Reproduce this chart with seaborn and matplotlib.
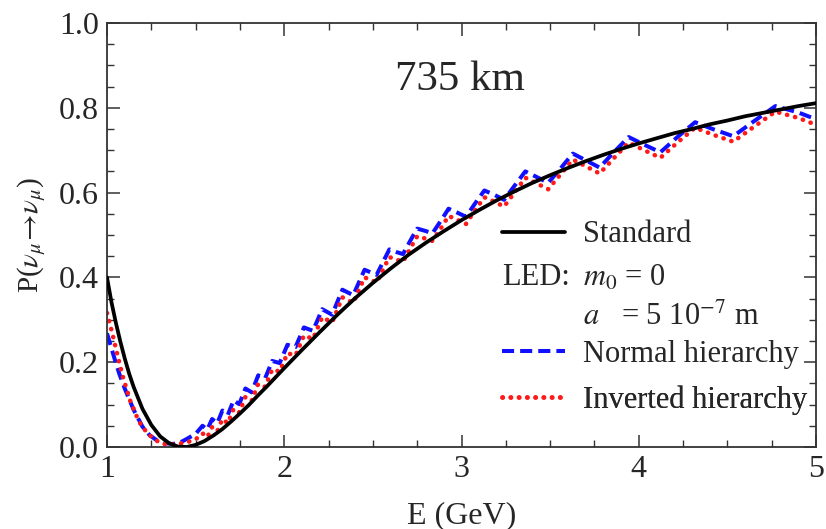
import matplotlib
matplotlib.use("Agg")
import matplotlib.pyplot as plt
import seaborn as sns
import pandas as pd
from matplotlib.lines import Line2D

# ---------------- data ----------------
E_std = [1.00, 1.025, 1.05, 1.075, 1.10, 1.125, 1.15, 1.20, 1.25, 1.30, 1.35, 1.40,
         1.45, 1.50, 1.55, 1.60, 1.65, 1.70, 1.75, 1.80, 1.85, 1.90, 1.95, 2.0, 2.1,
         2.2, 2.3, 2.4, 2.5, 2.6, 2.7, 2.8, 2.9, 3.0, 3.1, 3.2, 3.3, 3.4, 3.5, 3.6,
         3.7, 3.8, 3.9, 4.0, 4.1, 4.2, 4.3, 4.4, 4.5, 4.6, 4.7, 4.8, 4.9, 5.0]
P_std = [0.400, 0.342, 0.293, 0.249, 0.209, 0.173, 0.142, 0.090, 0.052, 0.025, 0.009,
         0.001, 0.000, 0.005, 0.014, 0.027, 0.042, 0.060, 0.079, 0.099, 0.121, 0.142,
         0.164, 0.186, 0.229, 0.271, 0.312, 0.351, 0.387, 0.421, 0.453, 0.482, 0.509,
         0.535, 0.559, 0.582, 0.603, 0.623, 0.641, 0.658, 0.674, 0.689, 0.703, 0.716,
         0.728, 0.740, 0.750, 0.761, 0.770, 0.780, 0.788, 0.796, 0.804, 0.811]

E_nh = [1.00, 1.02, 1.045, 1.07, 1.10, 1.13, 1.15, 1.18, 1.20, 1.24, 1.28, 1.33, 1.37,
        1.41, 1.45, 1.50, 1.539, 1.566, 1.593, 1.622, 1.651, 1.682, 1.714, 1.746,
        1.781, 1.816, 1.853, 1.892, 1.932, 1.974, 2.018, 2.064, 2.111, 2.162, 2.214,
        2.270, 2.328, 2.389, 2.453, 2.521, 2.593, 2.631, 2.670, 2.709, 2.750, 2.793,
        2.836, 2.881, 2.927, 2.975, 3.025, 3.076, 3.129, 3.184, 3.240, 3.299, 3.360,
        3.423, 3.489, 3.557, 3.628, 3.702, 3.779, 3.859, 3.943, 4.031, 4.122, 4.218,
        4.318, 4.423, 4.533, 4.649, 4.771, 4.900, 5.000]
P_nh = [0.268, 0.240, 0.205, 0.172, 0.138, 0.108, 0.088, 0.064, 0.048, 0.028, 0.016,
        0.009, 0.007, 0.010, 0.019, 0.031, 0.050, 0.041, 0.066, 0.056, 0.086, 0.076,
        0.110, 0.101, 0.138, 0.129, 0.169, 0.162, 0.203, 0.198, 0.241, 0.236, 0.282,
        0.274, 0.325, 0.312, 0.371, 0.358, 0.418, 0.406, 0.466, 0.460, 0.455, 0.485,
        0.515, 0.510, 0.504, 0.532, 0.562, 0.553, 0.543, 0.574, 0.605, 0.595, 0.583,
        0.616, 0.650, 0.637, 0.623, 0.656, 0.692, 0.676, 0.659, 0.695, 0.731, 0.713,
        0.695, 0.731, 0.766, 0.749, 0.733, 0.768, 0.804, 0.789, 0.773]

E_ih = [1.00, 1.03, 1.06, 1.09, 1.13, 1.18, 1.23, 1.29, 1.33, 1.37, 1.41, 1.45, 1.50,
        1.539, 1.566, 1.593, 1.622, 1.651, 1.682, 1.714, 1.746, 1.781, 1.816, 1.853,
        1.892, 1.932, 1.974, 2.018, 2.064, 2.111, 2.162, 2.214, 2.270, 2.328, 2.389,
        2.453, 2.521, 2.593, 2.631, 2.670, 2.709, 2.750, 2.793, 2.836, 2.881, 2.927,
        2.975, 3.025, 3.076, 3.129, 3.184, 3.240, 3.299, 3.360, 3.423, 3.489, 3.557,
        3.628, 3.702, 3.779, 3.859, 3.943, 4.031, 4.122, 4.218, 4.318, 4.423, 4.533,
        4.649, 4.771, 4.900, 5.000]
P_ih = [0.316, 0.268, 0.215, 0.165, 0.110, 0.060, 0.031, 0.012, 0.006, 0.006, 0.008,
        0.011, 0.018, 0.032, 0.023, 0.047, 0.037, 0.066, 0.056, 0.090, 0.081, 0.118,
        0.109, 0.149, 0.142, 0.183, 0.178, 0.221, 0.216, 0.263, 0.255, 0.306, 0.294,
        0.353, 0.340, 0.400, 0.388, 0.448, 0.442, 0.437, 0.467, 0.497, 0.492, 0.486,
        0.514, 0.545, 0.536, 0.526, 0.558, 0.589, 0.579, 0.567, 0.600, 0.635, 0.622,
        0.608, 0.642, 0.678, 0.662, 0.645, 0.681, 0.718, 0.700, 0.682, 0.718, 0.753,
        0.736, 0.720, 0.755, 0.791, 0.776, 0.760]

x_ticks = [1, 2, 3, 4, 5]
y_ticks = [0.0, 0.2, 0.4, 0.6, 0.8, 1.0]
title_text = "735 km"
xlabel = "E (GeV)"
ylabel = r"P($\nu_\mu\!\rightarrow\!\nu_\mu$)"
legend_labels = ["Standard", r"$m_0$ = 0", r"$a$   = 5 10$^{-7}$ m",
                 "Normal hierarchy", "Inverted hierarchy"]

# ---------------- style ----------------
sns.set_style("ticks")
plt.rcParams["font.family"] = ["Liberation Serif", "DejaVu Serif"]
plt.rcParams["mathtext.fontset"] = "stix"
plt.rcParams["axes.linewidth"] = 1.3

FS = 23
LFS = 22

BLUE = "#1010ff"
RED = "#ff1a1a"
blue_ls = (0, (3.0, 1.5))
red_ls = (0, (0.05, 1.75))

fig = plt.figure(figsize=(8.26, 5.29), dpi=100)
ax = fig.add_axes([107 / 826, 1 - 447 / 529, (816 - 107) / 826, (447 - 23) / 529])

df_std = pd.DataFrame({"E": E_std, "P": P_std})
df_nh = pd.DataFrame({"E": E_nh, "P": P_nh})
df_ih = pd.DataFrame({"E": E_ih, "P": P_ih})

sns.lineplot(data=df_std, x="E", y="P", ax=ax, color="black", linewidth=2.7,
             zorder=3, sort=True)
sns.lineplot(data=df_nh, x="E", y="P", ax=ax, color=BLUE, linewidth=2.9,
             linestyle=blue_ls, zorder=2, sort=True)
sns.lineplot(data=df_ih, x="E", y="P", ax=ax, color=RED, linewidth=3.3,
             linestyle=red_ls, dash_capstyle="round", zorder=2.5, sort=True)

ax.set_xlim(1, 5)
ax.set_ylim(0, 1)
ax.set_xticks(x_ticks)
ax.set_xticklabels([str(v) for v in x_ticks])
ax.set_yticks(y_ticks)
ax.set_yticklabels([f"{v:.1f}" for v in y_ticks])
ax.xaxis.set_minor_locator(matplotlib.ticker.MultipleLocator(0.25))
ax.yaxis.set_minor_locator(matplotlib.ticker.MultipleLocator(0.05))
ax.tick_params(which="both", direction="in", top=True, right=True,
               labelsize=FS, color="#333333")
ax.tick_params(which="major", length=9, width=1.1, pad=6)
ax.tick_params(which="minor", length=5, width=1.0)
for s in ax.spines.values():
    s.set_color("#333333")

ax.set_xlabel(xlabel, fontsize=FS, labelpad=12)
ax.set_ylabel(ylabel, fontsize=21, labelpad=8)

ax.text(0.498, 0.866, title_text, transform=ax.transAxes, fontsize=31,
        ha="center", va="center")

# legend: one single-entry legend per row so the rows sit where they do in the reference
handles = [
    Line2D([], [], color="black", linewidth=2.7),
    Line2D([], [], color="none"),
    Line2D([], [], color="none"),
    Line2D([], [], color=BLUE, linewidth=2.9, linestyle=blue_ls),
    Line2D([], [], color=RED, linewidth=3.3, linestyle=red_ls, dash_capstyle="round"),
]
row_y = [0.500, 0.399, 0.306, 0.219, 0.111]
for h, lab, yy in zip(handles, legend_labels, row_y):
    lg = ax.legend([h], [lab], loc="center left", bbox_to_anchor=(0.557, yy),
                   frameon=False, fontsize=LFS, handlelength=2.05,
                   handletextpad=0.6, borderpad=0, borderaxespad=0)
    ax.add_artist(lg)

ax.text(0.557, 0.399, "LED:", transform=ax.transAxes, fontsize=LFS,
        ha="left", va="center")

fig.savefig("out.png", dpi=100)
